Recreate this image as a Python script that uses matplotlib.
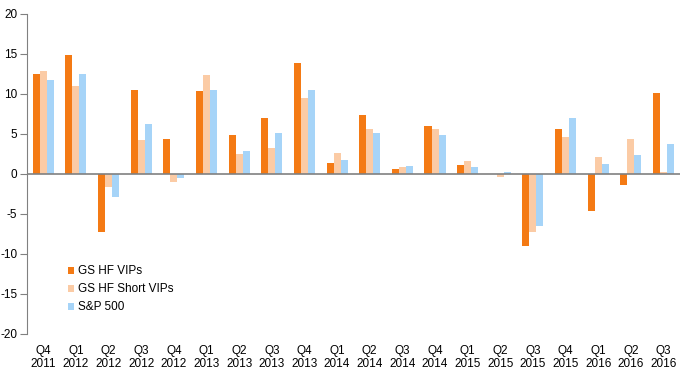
import matplotlib.pyplot as plt
import numpy as np
from matplotlib.patches import Patch

plt.rcParams['font.family'] = ['Liberation Sans', 'DejaVu Sans']
plt.rcParams['axes.unicode_minus'] = False

quarters = ['Q4\n2011', 'Q1\n2012', 'Q2\n2012', 'Q3\n2012', 'Q4\n2012',
            'Q1\n2013', 'Q2\n2013', 'Q3\n2013', 'Q4\n2013', 'Q1\n2014',
            'Q2\n2014', 'Q3\n2014', 'Q4\n2014', 'Q1\n2015', 'Q2\n2015',
            'Q3\n2015', 'Q4\n2015', 'Q1\n2016', 'Q2\n2016', 'Q3\n2016']
gs_vips = [12.5, 14.9, -7.3, 10.5, 4.4, 10.4, 4.9, 7.0, 13.9, 1.4,
           7.4, 0.6, 6.0, 1.1, 0.0, -8.95, 5.6, -4.6, -1.33, 10.1]
gs_short_vips = [12.9, 11.0, -1.67, 4.25, -1.0, 12.4, 2.5, 3.25, 9.5, 2.6,
                 5.6, 0.9, 5.6, 1.6, -0.33, -7.3, 4.6, 2.1, 4.4, 0.25]
sp500 = [11.75, 12.5, -2.83, 6.25, -0.46, 10.5, 2.9, 5.1, 10.5, 1.75,
         5.1, 1.0, 4.9, 0.9, 0.25, -6.45, 7.0, 1.25, 2.4, 3.75]

series = [('GS HF VIPs', gs_vips, '#F47A14'),
          ('GS HF Short VIPs', gs_short_vips, '#FBCBA5'),
          ('S&P 500', sp500, '#A6D4F8')]

fig = plt.figure(figsize=(6.99, 3.73), dpi=100)
ax = fig.add_axes([0.0386, 0.1046, 0.934, 0.858])

x = np.arange(len(quarters))
w = 0.215
for i, (name, vals, col) in enumerate(series):
    ax.bar(x + (i - 1) * w, vals, width=w, color=col, linewidth=0)

ax.set_xlim(-0.5, len(quarters) - 0.5)
ax.set_ylim(-20, 20)
ax.set_yticks(range(-20, 21, 5))
ax.set_xticks(x)
ax.set_xticklabels(quarters, fontsize=8.5, linespacing=1.05)
ax.tick_params(axis='x', length=0, pad=8)
ax.tick_params(axis='y', labelsize=8.5, length=5, color='#808080', pad=2)

for s in ['top', 'right', 'bottom']:
    ax.spines[s].set_visible(False)
ax.spines['left'].set_color('#808080')
ax.axhline(0, color='#808080', linewidth=1.2)

handles = [Patch(facecolor=c, edgecolor='none') for _, _, c in series]
ax.legend(handles, [n for n, _, _ in series], loc='lower left',
          bbox_to_anchor=(0.055, 0.05), frameon=False, fontsize=8.5,
          handlelength=0.55, handleheight=0.55, handletextpad=0.35,
          labelspacing=0.5, borderaxespad=0)

fig.savefig('out.png', dpi=100)
